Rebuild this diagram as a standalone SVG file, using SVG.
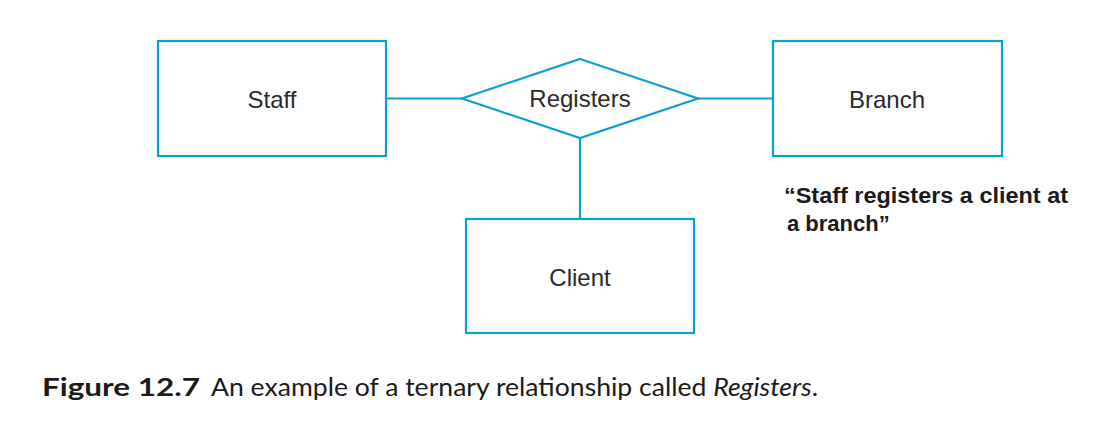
<svg xmlns="http://www.w3.org/2000/svg" width="1120" height="426" viewBox="0 0 1120 426">
<style>
.shape{fill:none;stroke:#0a9fd6;stroke-width:2.2}
.lbl{font-family:"Liberation Sans",Arial,sans-serif;font-size:24px;fill:#2a2a2a;text-anchor:middle}
.note{font-family:"Liberation Sans",Arial,sans-serif;font-size:22px;font-weight:bold;fill:#1a1a1a}
.cap{font-family:Lato,"Open Sans",sans-serif;font-size:25px;fill:#1a1a1a}
</style>
<rect width="1120" height="426" fill="#fff"/>
<g id="connectors">
<line class="shape" x1="386" y1="98.5" x2="462" y2="98.5"/>
<line class="shape" x1="698" y1="98.5" x2="773" y2="98.5"/>
<line class="shape" x1="580" y1="138" x2="580" y2="219"/>
</g>
<g id="staff">
<rect class="shape" x="158" y="41" width="228" height="115"/>
<text class="lbl" x="272" y="108">Staff</text>
</g>
<g id="registers">
<polygon class="shape" points="580,59 698,98.5 580,138 462,98.5"/>
<text class="lbl" x="580" y="107">Registers</text>
</g>
<g id="branch">
<rect class="shape" x="773" y="41" width="229" height="115"/>
<text class="lbl" x="887" y="108">Branch</text>
</g>
<g id="client">
<rect class="shape" x="466" y="219" width="228" height="114"/>
<text class="lbl" x="580" y="286">Client</text>
</g>
<g id="note">
<text class="note" x="784" y="203" textLength="284" lengthAdjust="spacingAndGlyphs">“Staff registers a client at</text>
<text class="note" x="787" y="231">a branch”</text>
</g>
<g id="caption">
<text class="cap" x="42" y="396"><tspan font-weight="bold" textLength="158" lengthAdjust="spacingAndGlyphs">Figure 12.7</tspan><tspan x="211" textLength="607" lengthAdjust="spacingAndGlyphs">An example of a ternary relationship called <tspan font-style="italic">Registers</tspan>.</tspan></text>
</g>
</svg>
